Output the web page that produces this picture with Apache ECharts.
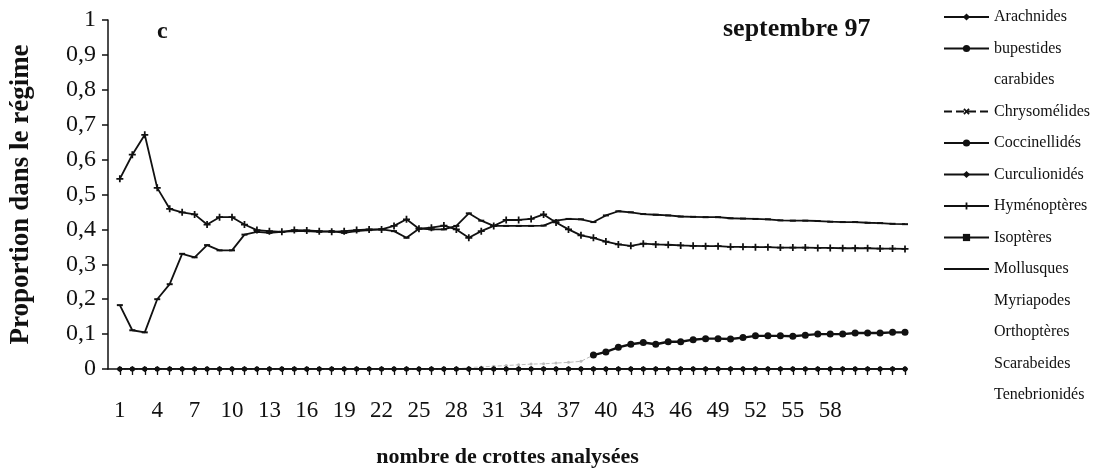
<!DOCTYPE html>
<html><head><meta charset="utf-8">
<script src="https://cdn.jsdelivr.net/npm/echarts@6/dist/echarts.min.js"></script>
<style>html,body{margin:0;background:#fff}#c{width:1096px;height:473px}</style>
</head><body><div id="c"></div>
<script>
const crottes = [1,2,3,4,5,6,7,8,9,10,11,12,13,14,15,16,17,18,19,20,21,22,23,24,25,26,27,28,29,30,31,32,33,34,35,36,37,38,39,40,41,42,43,44,45,46,47,48,49,50,51,52,53,54,55,56,57,58,59,60,61,62,63,64];
const xTickLabels = [1,4,7,10,13,16,19,22,25,28,31,34,37,40,43,46,49,52,55,58];
const legendNames = ['Arachnides','bupestides','carabides','Chrysomélides','Coccinellidés','Curculionidés','Hyménoptères','Isoptères','Mollusques','Myriapodes','Orthoptères','Scarabeides','Tenebrionidés'];
const hymenopteres = [0.545,0.614,0.671,0.519,0.459,0.449,0.443,0.414,0.435,0.435,0.414,0.398,0.395,0.393,0.398,0.397,0.395,0.393,0.395,0.398,0.400,0.400,0.410,0.429,0.402,0.405,0.411,0.400,0.376,0.395,0.410,0.427,0.427,0.430,0.443,0.420,0.400,0.383,0.376,0.365,0.357,0.353,0.359,0.357,0.356,0.354,0.353,0.352,0.352,0.350,0.350,0.349,0.349,0.348,0.348,0.348,0.347,0.347,0.346,0.346,0.346,0.345,0.345,0.344];
const isopteres = [0.183,0.111,0.105,0.200,0.243,0.330,0.320,0.355,0.340,0.340,0.385,0.393,0.390,0.393,0.395,0.395,0.393,0.395,0.390,0.395,0.398,0.400,0.395,0.376,0.402,0.400,0.400,0.410,0.446,0.425,0.410,0.410,0.410,0.410,0.411,0.425,0.430,0.429,0.421,0.440,0.452,0.449,0.444,0.442,0.440,0.437,0.436,0.435,0.435,0.432,0.431,0.430,0.429,0.426,0.425,0.425,0.424,0.422,0.421,0.421,0.419,0.418,0.416,0.415];
const coccinellides = [0,0,0,0,0,0,0,0,0,0,0,0,0,0,0,0,0,0,0,0,0,0,0,0,0,0,0,0,0.004,0.006,0.008,0.010,0.012,0.014,0.015,0.017,0.019,0.022,0.040,0.049,0.062,0.071,0.076,0.071,0.078,0.078,0.084,0.087,0.087,0.086,0.090,0.095,0.095,0.095,0.094,0.097,0.100,0.100,0.100,0.103,0.103,0.103,0.105,0.105];
const absents = [0,0,0,0,0,0,0,0,0,0,0,0,0,0,0,0,0,0,0,0,0,0,0,0,0,0,0,0,0,0,0,0,0,0,0,0,0,0,0,0,0,0,0,0,0,0,0,0,0,0,0,0,0,0,0,0,0,0,0,0,0,0,0,0];
const coccFaintUntil = 39;   // the scanned line is faint before this sample

const INK = '#111';
const SERIF = "'Liberation Serif', 'DejaVu Serif', serif";
const PLUS = 'path://M3,0H5V3H8V5H5V8H3V5H0V3H3Z';
function pts(arr){ return arr.map((v,i)=>[crottes[i], v]); }

const styleOf = {
  'Arachnides':   {data: absents, symbol:'diamond', symbolSize:5, w:1.2},
  'bupestides':   {data: absents, symbol:'circle', symbolSize:5, w:1.2},
  'carabides':    {data: [], hidden:true},
  'Chrysomélides':{data: absents, symbol:PLUS, symbolSize:5, rot:45, w:0.8, dash:'dashed'},
  'Coccinellidés':{data: coccinellides.map((v,i)=> crottes[i] >= coccFaintUntil ? v : null), symbol:'circle', symbolSize:7, w:2.4},
  'Curculionidés':{data: absents, symbol:'diamond', symbolSize:6, w:1.2},
  'Hyménoptères': {data: hymenopteres, symbol:PLUS, symbolSize:7, w:1.8},
  'Isoptères':    {data: isopteres, symbol:'rect', symbolSize:[6,2], w:1.8},
  'Mollusques':   {data: absents, symbol:'none', symbolSize:0, w:1.2, noMark:true},
  'Myriapodes':   {data: [], hidden:true},
  'Orthoptères':  {data: [], hidden:true},
  'Scarabeides':  {data: [], hidden:true},
  'Tenebrionidés':{data: [], hidden:true}
};

const series = legendNames.map(n=>{
  const s = styleOf[n];
  return {
    name: n, type:'line', data: pts(s.data),
    symbol: s.hidden ? 'none' : s.symbol,
    symbolSize: s.symbolSize || 4,
    symbolRotate: s.rot || 0,
    showSymbol: !s.hidden && !s.noMark,
    lineStyle: {color: INK, width: s.w || 1, type: s.dash || 'solid', opacity: s.hidden ? 0 : 1},
    itemStyle: {color: INK, opacity: s.hidden ? 0 : 1},
    z: n==='Coccinellidés' ? 4 : 3
  };
});
// faint beginning of the Coccinellidés curve (same series name, merged in legend)
series.push({
  name:'Coccinellidés', type:'line',
  data: pts(coccinellides.map((v,i)=> crottes[i] <= coccFaintUntil ? v : null)),
  symbol:'circle', symbolSize:3, showSymbol:true,
  lineStyle:{color:'#bbb', width:1, type:'dashed'}, itemStyle:{color:'#bbb'}, z:2
});

const chart = echarts.init(document.getElementById('c'), null, {renderer:'canvas'});
chart.setOption({
  animation:false,
  backgroundColor:'#fff',
  color:[INK],
  title:[
    {text:'c', left:152, top:15, textStyle:{fontFamily:SERIF, fontWeight:'bold', fontSize:24, color:INK}},
    {text:'septembre 97', left:718, top:11, textStyle:{fontFamily:SERIF, fontWeight:'bold', fontSize:26, color:INK}}
  ],
  legend:{
    orient:'vertical', left:938, top:3, itemWidth:45, itemHeight:9, itemGap:13.5,
    textStyle:{fontFamily:SERIF, fontSize:16, color:INK, lineHeight:18},
    data: legendNames.map(n => styleOf[n].hidden
      ? {name:n, itemStyle:{opacity:0}, lineStyle:{opacity:0}}
      : (styleOf[n].noMark ? {name:n, itemStyle:{opacity:0}} : {name:n})),
    selectedMode:false
  },
  grid:{left:95, right:189, top:20, bottom:102, containLabel:false},
  xAxis:{
    type:'value', min:0.05, max:64.16,
    name:'nombre de crottes analysées', nameLocation:'middle', nameGap:77,
    nameTextStyle:{fontFamily:SERIF, fontWeight:'bold', fontSize:22, color:INK},
    axisLine:{lineStyle:{color:INK, width:1.5}},
    axisTick:{show:true, customValues: crottes, length:6, lineStyle:{color:INK, width:1.3}},
    axisLabel:{customValues: xTickLabels, fontFamily:SERIF, fontSize:23, color:INK, margin:30},
    splitLine:{show:false}
  },
  yAxis:{
    type:'value', min:0, max:1, interval:0.1,
    name:'Proportion dans le régime', nameLocation:'middle', nameGap:73,
    nameTextStyle:{fontFamily:SERIF, fontWeight:'bold', fontSize:27, color:INK},
    axisLine:{show:true, lineStyle:{color:INK, width:1.5}},
    axisTick:{show:true, length:6, lineStyle:{color:INK, width:1.5}},
    axisLabel:{fontFamily:SERIF, fontSize:24, color:INK, margin:12,
      formatter: v => String(Math.round(v*10)/10).replace('.', ',')},
    splitLine:{show:false}
  },
  series: series
});
</script>
</body></html>
